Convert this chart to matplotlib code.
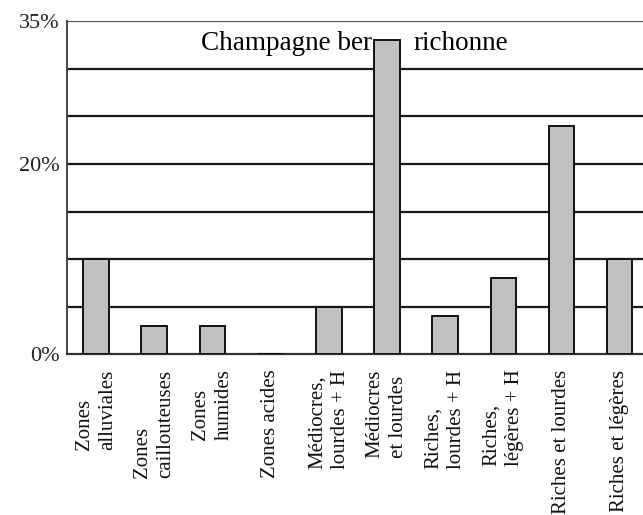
import matplotlib
matplotlib.use("Agg")
import matplotlib.pyplot as plt

categories = [
    "Zones\nalluviales",
    "Zones\ncaillouteuses",
    "Zones\nhumides",
    "Zones acides",
    "Médiocres,\nlourdes + H",
    "Médiocres\net lourdes",
    "Riches,\nlourdes + H",
    "Riches,\nlégères + H",
    "Riches et lourdes",
    "Riches et légères",
]
values = [10, 3, 3, 0, 5, 33, 4, 8, 24, 10]
ytick_vals = [0, 20, 35]
ytick_labels = ["0%", "20%", "35%"]
titre_gauche = "Champagne ber"
titre_droite = "richonne"

plt.rcParams["font.family"] = ["Liberation Serif", "DejaVu Serif"]

fig = plt.figure(figsize=(6.43, 5.15), dpi=100)
ax = fig.add_axes([0.104, 0.312, 0.905, 0.647])

x = list(range(len(categories)))
ax.bar(x, values, width=0.44, color="#c0c0c0", edgecolor="#111111",
       linewidth=1.4, zorder=3)

# lignes horizontales tous les 5 %
for g in range(5, 35, 5):
    ax.axhline(g, color="#1a1a1a", linewidth=1.6, zorder=1)
ax.axhline(35, color="#555555", linewidth=1.6, zorder=1)

ax.text(4.745, 32, titre_gauche, ha="right", va="baseline", fontsize=19.5, zorder=2)
ax.text(5.45, 32, titre_droite, ha="left", va="baseline", fontsize=19.5, zorder=2)

ax.set_xlim(-0.5, 9.5)
ax.set_ylim(0, 35)
ax.set_yticks(ytick_vals)
ax.set_yticklabels(ytick_labels, fontsize=16, color="#222222")
ax.set_xticks(x)
ax.set_xticklabels(categories, rotation=90, fontsize=15, linespacing=1.3,
                   multialignment="left", color="#111111")
ax.tick_params(axis="both", length=0)
ax.tick_params(axis="x", pad=11)
ax.tick_params(axis="y", pad=5)

for side in ["top", "right"]:
    ax.spines[side].set_visible(False)
ax.spines["left"].set_color("#444444")
ax.spines["bottom"].set_color("#333333")
ax.spines["left"].set_linewidth(1.4)
ax.spines["bottom"].set_linewidth(1.6)

fig.savefig("out.png", dpi=100)
